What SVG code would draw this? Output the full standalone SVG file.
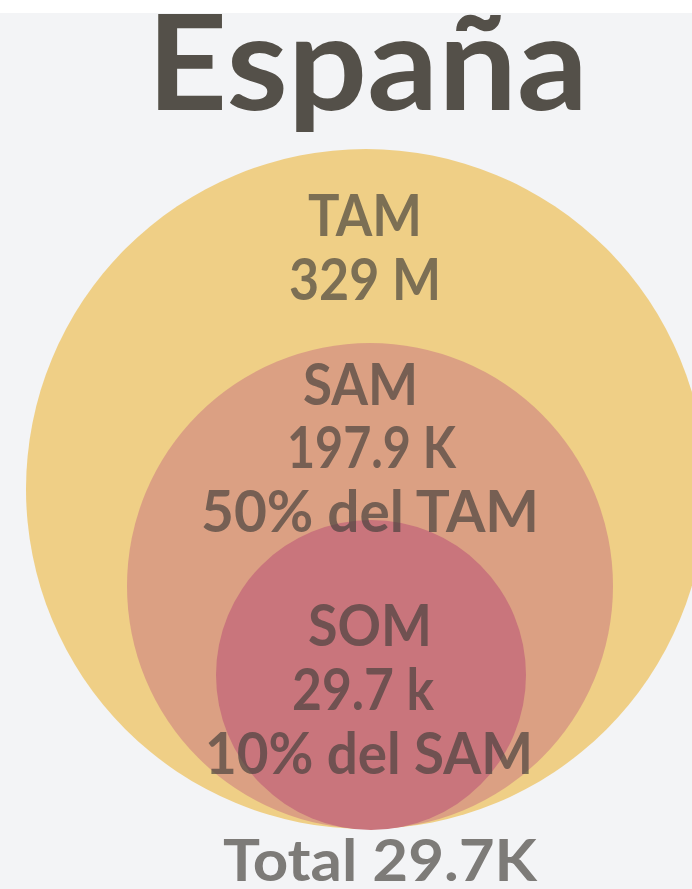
<svg xmlns="http://www.w3.org/2000/svg" width="692" height="889" viewBox="0 0 692 889">
  <style>
    .lbl { font-family: "Lato", "Liberation Sans", sans-serif; font-weight: 700; font-size: 57px; fill: #46413c; fill-opacity: 0.68; }
    .title { font-family: "Lato", "Liberation Sans", sans-serif; font-weight: 700; font-size: 132px; fill: #545049; }
  </style>
  <rect x="0" y="0" width="692" height="889" fill="#f3f4f6"/>
  <rect x="0" y="0" width="692" height="13" fill="#ffffff"/>
  <g id="title">
    <text class="title" x="147" y="110" textLength="441" lengthAdjust="spacingAndGlyphs">España</text>
  </g>
  <g id="tam">
    <circle cx="366" cy="489" r="340" fill="#efcf86"/>
  </g>
  <g id="sam">
    <circle cx="370" cy="586" r="243" fill="#dba083"/>
  </g>
  <g id="som">
    <circle cx="371" cy="675" r="155" fill="#c9757c"/>
  </g>
  <g id="tam-label">
    <text class="lbl" x="308" y="236" textLength="114" lengthAdjust="spacingAndGlyphs">TAM</text>
    <text class="lbl" x="289" y="300" textLength="152" lengthAdjust="spacingAndGlyphs">329 M</text>
  </g>
  <g id="sam-label">
    <text class="lbl" x="303" y="405" textLength="115" lengthAdjust="spacingAndGlyphs">SAM</text>
    <text class="lbl" x="287" y="468" textLength="169" lengthAdjust="spacingAndGlyphs">197.9 K</text>
    <text class="lbl" x="201" y="532" textLength="338" lengthAdjust="spacingAndGlyphs">50% del TAM</text>
  </g>
  <g id="som-label">
    <text class="lbl" x="308" y="646" textLength="124" lengthAdjust="spacingAndGlyphs">SOM</text>
    <text class="lbl" x="292" y="710" textLength="142" lengthAdjust="spacingAndGlyphs">29.7 k</text>
    <text class="lbl" x="205" y="774" textLength="328" lengthAdjust="spacingAndGlyphs">10% del SAM</text>
  </g>
  <g id="total">
    <text class="lbl" x="223" y="881" textLength="314" lengthAdjust="spacingAndGlyphs">Total 29.7K</text>
  </g>
  <g id="connectors"/>
</svg>
